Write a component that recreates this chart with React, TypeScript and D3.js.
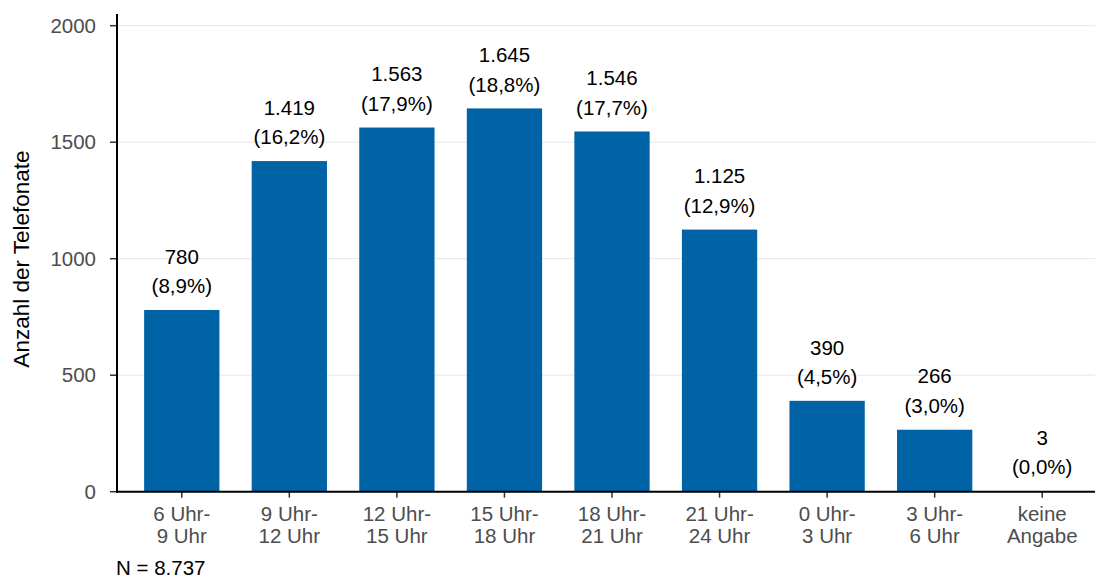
import React from "react";
import * as d3 from "d3";

const categories = [
  ["6 Uhr-", "9 Uhr"],
  ["9 Uhr-", "12 Uhr"],
  ["12 Uhr-", "15 Uhr"],
  ["15 Uhr-", "18 Uhr"],
  ["18 Uhr-", "21 Uhr"],
  ["21 Uhr-", "24 Uhr"],
  ["0 Uhr-", "3 Uhr"],
  ["3 Uhr-", "6 Uhr"],
  ["keine", "Angabe"],
];
const values = [780, 1419, 1563, 1645, 1546, 1125, 390, 266, 3];
const valueLabels = ["780", "1.419", "1.563", "1.645", "1.546", "1.125", "390", "266", "3"];
const percentLabels = ["(8,9%)", "(16,2%)", "(17,9%)", "(18,8%)", "(17,7%)", "(12,9%)", "(4,5%)", "(3,0%)", "(0,0%)"];
const yTicks = [0, 500, 1000, 1500, 2000];
const yTitle = "Anzahl der Telefonate";
const note = "N = 8.737";

export default function App() {
  const W = 1095, H = 578;
  const left = 117, right = 1095, top = 14, bottom = 491.7;
  const ids = categories.map((_, i) => String(i));
  const x = d3.scaleBand<string>().domain(ids).range([128, 1096]).paddingInner(0.3).paddingOuter(0.15);
  const y = d3.scaleLinear().domain([0, 2000]).range([bottom, 25.7]);
  const font = "Arial, 'Liberation Sans', sans-serif";
  const fs = 20.5;
  return (
    <svg width={W} height={H} style={{ position: "absolute", left: 0, top: 0 }} fontFamily={font}>
      <rect width={W} height={H} fill="#fff" />
      {yTicks.map((t) => (
        <g key={t}>
          {t > 0 && <line x1={left} x2={right} y1={y(t)} y2={y(t)} stroke="#e6e6e6" strokeWidth={1} />}
          <line x1={110} x2={left} y1={y(t)} y2={y(t)} stroke="#333" strokeWidth={1.5} />
          <text x={96} y={y(t)} dy="0.35em" textAnchor="end" fontSize={fs} fill="#4d4d4d">{t}</text>
        </g>
      ))}
      {values.map((v, i) => {
        const cx = x(String(i))! + x.bandwidth() / 2;
        return (
          <g key={i}>
            <rect x={x(String(i))} y={y(v)} width={x.bandwidth()} height={bottom - y(v)} fill="#0063a6" />
            <text x={cx} y={y(v) - 53.5} dy="0.35em" textAnchor="middle" fontSize={fs} fill="#000">{valueLabels[i]}</text>
            <text x={cx} y={y(v) - 24} dy="0.35em" textAnchor="middle" fontSize={fs} fill="#000">{percentLabels[i]}</text>
            <line x1={cx} x2={cx} y1={bottom} y2={bottom + 6} stroke="#333" strokeWidth={1.5} />
            <text x={cx} y={514} dy="0.35em" textAnchor="middle" fontSize={fs} fill="#4d4d4d">{categories[i][0]}</text>
            <text x={cx} y={536} dy="0.35em" textAnchor="middle" fontSize={fs} fill="#4d4d4d">{categories[i][1]}</text>
          </g>
        );
      })}
      <line x1={left} x2={left} y1={top} y2={bottom + 1} stroke="#000" strokeWidth={2} />
      <line x1={left - 1} x2={right} y1={bottom} y2={bottom} stroke="#000" strokeWidth={2} />
      <text transform={`translate(21,259) rotate(-90)`} textAnchor="middle" dy="0.35em" fontSize={22.5} fill="#000">{yTitle}</text>
      <text x={116} y={568} dy="0.35em" fontSize={fs} fill="#000">{note}</text>
    </svg>
  );
}
